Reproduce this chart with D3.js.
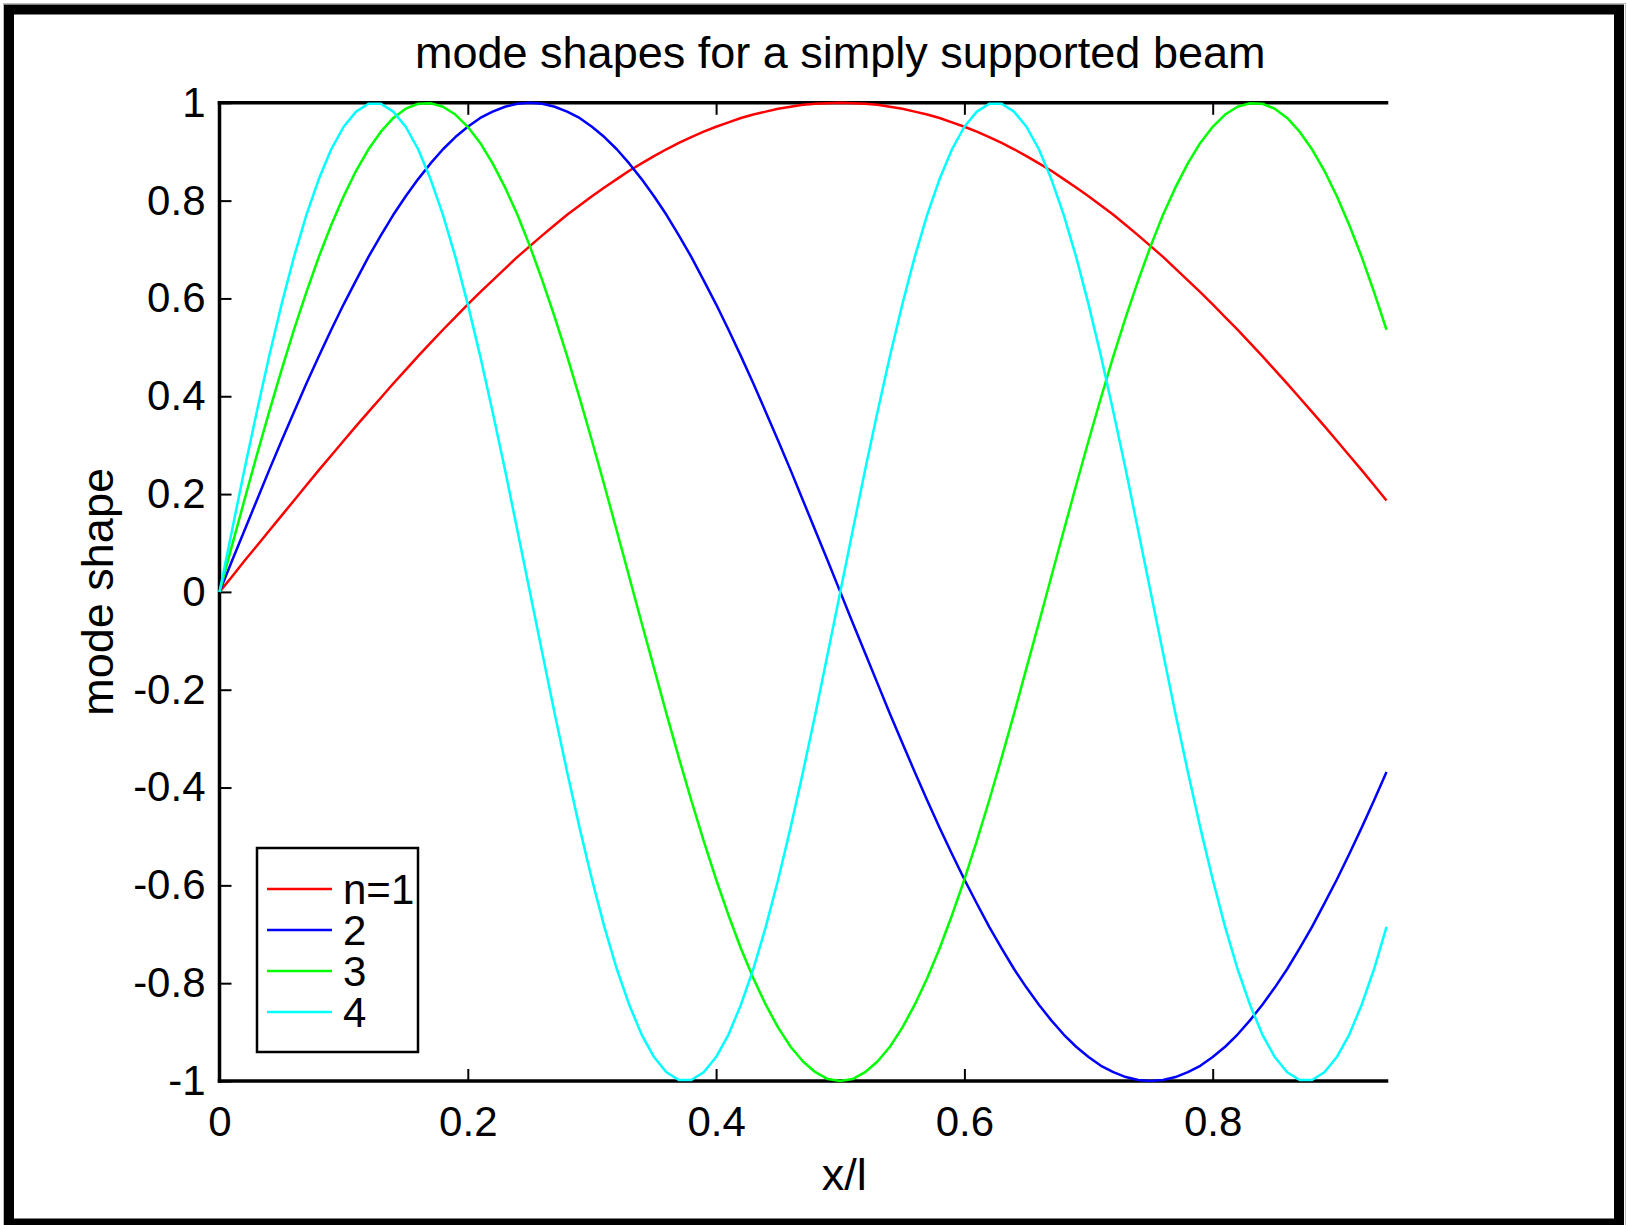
<!DOCTYPE html>
<html>
<head>
<meta charset="utf-8">
<script src="https://cdn.jsdelivr.net/npm/d3@7"></script>
<style>
body { margin: 0; background: #fff; }
text { font-family: "Liberation Sans", Arial, Helvetica, sans-serif; fill: #000; }
</style>
</head>
<body>
<div id="chart"></div>
<script>
// sample positions x/l (the plot is cut off at 0.94)
const xValues = [0,0.01,0.02,0.03,0.04,0.05,0.06,0.07,0.08,0.09,0.1,0.11,0.12,0.13,0.14,0.15,0.16,0.17,0.18,0.19,
    0.2,0.21,0.22,0.23,0.24,0.25,0.26,0.27,0.28,0.29,0.3,0.31,0.32,0.33,0.34,0.35,0.36,0.37,0.38,0.39,
    0.4,0.41,0.42,0.43,0.44,0.45,0.46,0.47,0.48,0.49,0.5,0.51,0.52,0.53,0.54,0.55,0.56,0.57,0.58,0.59,
    0.6,0.61,0.62,0.63,0.64,0.65,0.66,0.67,0.68,0.69,0.7,0.71,0.72,0.73,0.74,0.75,0.76,0.77,0.78,0.79,
    0.8,0.81,0.82,0.83,0.84,0.85,0.86,0.87,0.88,0.89,0.9,0.91,0.92,0.93,0.94]

const mode1 = [0,.031,.063,.094,.125,.156,.187,.218,.249,.279,.309,.339,.368,.397,.426,.454,.482,.509,.536,.562,
    .588,.613,.637,.661,.685,.707,.729,.750,.771,.790,.809,.827,.844,.861,.876,.891,.905,.918,.930,.941,
    .951,.960,.969,.976,.982,.988,.992,.996,.998,.999,1,.999,.998,.996,.992,.988,.982,.976,.969,.960,
    .951,.941,.930,.918,.905,.891,.876,.861,.844,.827,.809,.790,.771,.750,.729,.707,.685,.661,.637,.613,
    .588,.562,.536,.509,.482,.454,.426,.397,.368,.339,.309,.279,.249,.218,.187]

const mode2 = [0,.063,.125,.187,.249,.309,.368,.426,.482,.536,.588,.637,.685,.729,.771,.809,.844,.876,.905,.930,
    .951,.969,.982,.992,.998,1,.998,.992,.982,.969,.951,.930,.905,.876,.844,.809,.771,.729,.685,.637,
    .588,.536,.482,.426,.368,.309,.249,.187,.125,.063,0,-.063,-.125,-.187,-.249,-.309,-.368,-.426,-.482,-.536,
    -.588,-.637,-.685,-.729,-.771,-.809,-.844,-.876,-.905,-.930,-.951,-.969,-.982,-.992,-.998,-1,-.998,-.992,-.982,-.969,
    -.951,-.930,-.905,-.876,-.844,-.809,-.771,-.729,-.685,-.637,-.588,-.536,-.482,-.426,-.368]

const mode3 = [0,.094,.187,.279,.368,.454,.536,.613,.685,.750,.809,.861,.905,.941,.969,.988,.998,.999,.992,.976,
    .951,.918,.876,.827,.771,.707,.637,.562,.482,.397,.309,.218,.125,.031,-.063,-.156,-.249,-.339,-.426,-.509,
    -.588,-.661,-.729,-.790,-.844,-.891,-.930,-.960,-.982,-.996,-1,-.996,-.982,-.960,-.930,-.891,-.844,-.790,-.729,-.661,
    -.588,-.509,-.426,-.339,-.249,-.156,-.063,.031,.125,.218,.309,.397,.482,.562,.637,.707,.771,.827,.876,.918,
    .951,.976,.992,.999,.998,.988,.969,.941,.905,.861,.809,.750,.685,.613,.536]

const mode4 = [0,.125,.249,.368,.482,.588,.685,.771,.844,.905,.951,.982,.998,.998,.982,.951,.905,.844,.771,.685,
    .588,.482,.368,.249,.125,0,-.125,-.249,-.368,-.482,-.588,-.685,-.771,-.844,-.905,-.951,-.982,-.998,-.998,-.982,
    -.951,-.905,-.844,-.771,-.685,-.588,-.482,-.368,-.249,-.125,0,.125,.249,.368,.482,.588,.685,.771,.844,.905,
    .951,.982,.998,.998,.982,.951,.905,.844,.771,.685,.588,.482,.368,.249,.125,0,-.125,-.249,-.368,-.482,
    -.588,-.685,-.771,-.844,-.905,-.951,-.982,-.998,-.998,-.982,-.951,-.905,-.844,-.771,-.685]

const seriesNames = ["n=1", "2", "3", "4"]
const seriesColors = ["#ff0000", "#0000ff", "#00ff00", "#00ffff"]
const xTicks = [0, 0.2, 0.4, 0.6, 0.8]
const yTicks = [-1, -0.8, -0.6, -0.4, -0.2, 0, 0.2, 0.4, 0.6, 0.8, 1]
const titleText = "mode shapes for a simply supported beam"
const xLabelText = "x/l"
const yLabelText = "mode shape"

const series = [mode1, mode2, mode3, mode4]

const width = 1627
const height = 1225
const tickFont = 42
const labelFont = 45

const svg = d3.select("#chart")
    .append("svg")
    .attr("width", width)
    .attr("height", height)

svg.append("rect")
    .attr("width", width)
    .attr("height", height)
    .attr("fill", "#fff")

// outer frame of the figure
svg.append("rect")
    .attr("x", 3.5).attr("y", 3.5)
    .attr("width", 1622).attr("height", 1230)
    .attr("fill", "none")
    .attr("stroke", "#bbb")
    .attr("stroke-width", 1)

svg.append("rect")
    .attr("x", 9).attr("y", 9.5)
    .attr("width", 1610).attr("height", 1214)
    .attr("fill", "none")
    .attr("stroke", "#000")
    .attr("stroke-width", 10)

const xScale = d3.scaleLinear()
    .domain([0, 1])
    .range([219.5, 1461])

const yScale = d3.scaleLinear()
    .domain([-1, 1])
    .range([1081, 102.8])

const xEnd = xScale(xValues[xValues.length - 1])

const fmt = d => String(+d.toFixed(1))

function styleAxis(g) {
    g.attr("font-size", tickFont)
    g.select(".domain").remove()
    g.selectAll(".tick line").attr("stroke", "#000").attr("stroke-width", 2)
}

const xAxis = d3.axisBottom(xScale)
    .tickValues(xTicks)
    .tickSizeInner(-12)
    .tickSizeOuter(0)
    .tickPadding(25)
    .tickFormat(fmt)

const xAxisTop = d3.axisTop(xScale)
    .tickValues(xTicks)
    .tickSizeInner(-12)
    .tickSizeOuter(0)
    .tickFormat("")

const yAxis = d3.axisLeft(yScale)
    .tickValues(yTicks)
    .tickSizeInner(-12)
    .tickSizeOuter(0)
    .tickPadding(14)
    .tickFormat(fmt)

svg.append("g")
    .attr("class", "axis x-axis")
    .attr("transform", `translate(0, ${yScale(-1)})`)
    .call(xAxis)
    .call(styleAxis)

svg.append("g")
    .attr("class", "axis x-axis-top")
    .attr("transform", `translate(0, ${yScale(1)})`)
    .call(xAxisTop)
    .call(styleAxis)

svg.append("g")
    .attr("class", "axis y-axis")
    .attr("transform", `translate(${xScale(0)}, 0)`)
    .call(yAxis)
    .call(styleAxis)

// box lines, stopping where the picture is cut
const boxLines = [
    [xScale(0), yScale(1), xEnd, yScale(1)],
    [xScale(0), yScale(-1), xEnd, yScale(-1)],
    [xScale(0), yScale(1), xScale(0), yScale(-1)]
]
svg.selectAll(".box-line")
    .data(boxLines)
    .enter()
    .append("line")
    .attr("class", "box-line")
    .attr("x1", d => d[0]).attr("y1", d => d[1])
    .attr("x2", d => d[2]).attr("y2", d => d[3])
    .attr("stroke", "#000")
    .attr("stroke-width", 3.5)
    .attr("stroke-linecap", "square")

const line = d3.line()
    .x((d, i) => xScale(xValues[i]))
    .y(d => yScale(d))

svg.selectAll(".mode")
    .data(series)
    .enter()
    .append("path")
    .attr("class", "mode")
    .attr("d", line)
    .attr("fill", "none")
    .attr("stroke", (d, i) => seriesColors[i])
    .attr("stroke-width", 2.5)
    .attr("stroke-linejoin", "round")

// title and axis labels
svg.append("text")
    .attr("x", xScale(0.5))
    .attr("y", 68)
    .attr("text-anchor", "middle")
    .attr("font-size", labelFont)
    .text(titleText)

svg.append("text")
    .attr("x", xScale(0.5) + 4)
    .attr("y", 1190)
    .attr("text-anchor", "middle")
    .attr("font-size", labelFont)
    .text(xLabelText)

svg.append("text")
    .attr("transform", `translate(113, ${(yScale(1) + yScale(-1)) / 2}) rotate(-90)`)
    .attr("text-anchor", "middle")
    .attr("font-size", labelFont)
    .text(yLabelText)

// legend
const legend = svg.append("g")
    .attr("transform", "translate(257, 848)")

legend.append("rect")
    .attr("width", 161)
    .attr("height", 204)
    .attr("fill", "#fff")
    .attr("stroke", "#000")
    .attr("stroke-width", 2.5)

const rows = legend.selectAll(".legend-row")
    .data(seriesNames)
    .enter()
    .append("g")
    .attr("class", "legend-row")
    .attr("transform", (d, i) => `translate(0, ${41 + i * 41})`)

rows.append("line")
    .attr("x1", 10).attr("x2", 75)
    .attr("stroke", (d, i) => seriesColors[i])
    .attr("stroke-width", 2.5)

rows.append("text")
    .attr("x", 86)
    .attr("y", 15)
    .attr("font-size", tickFont)
    .text(d => d)
</script>
</body>
</html>
